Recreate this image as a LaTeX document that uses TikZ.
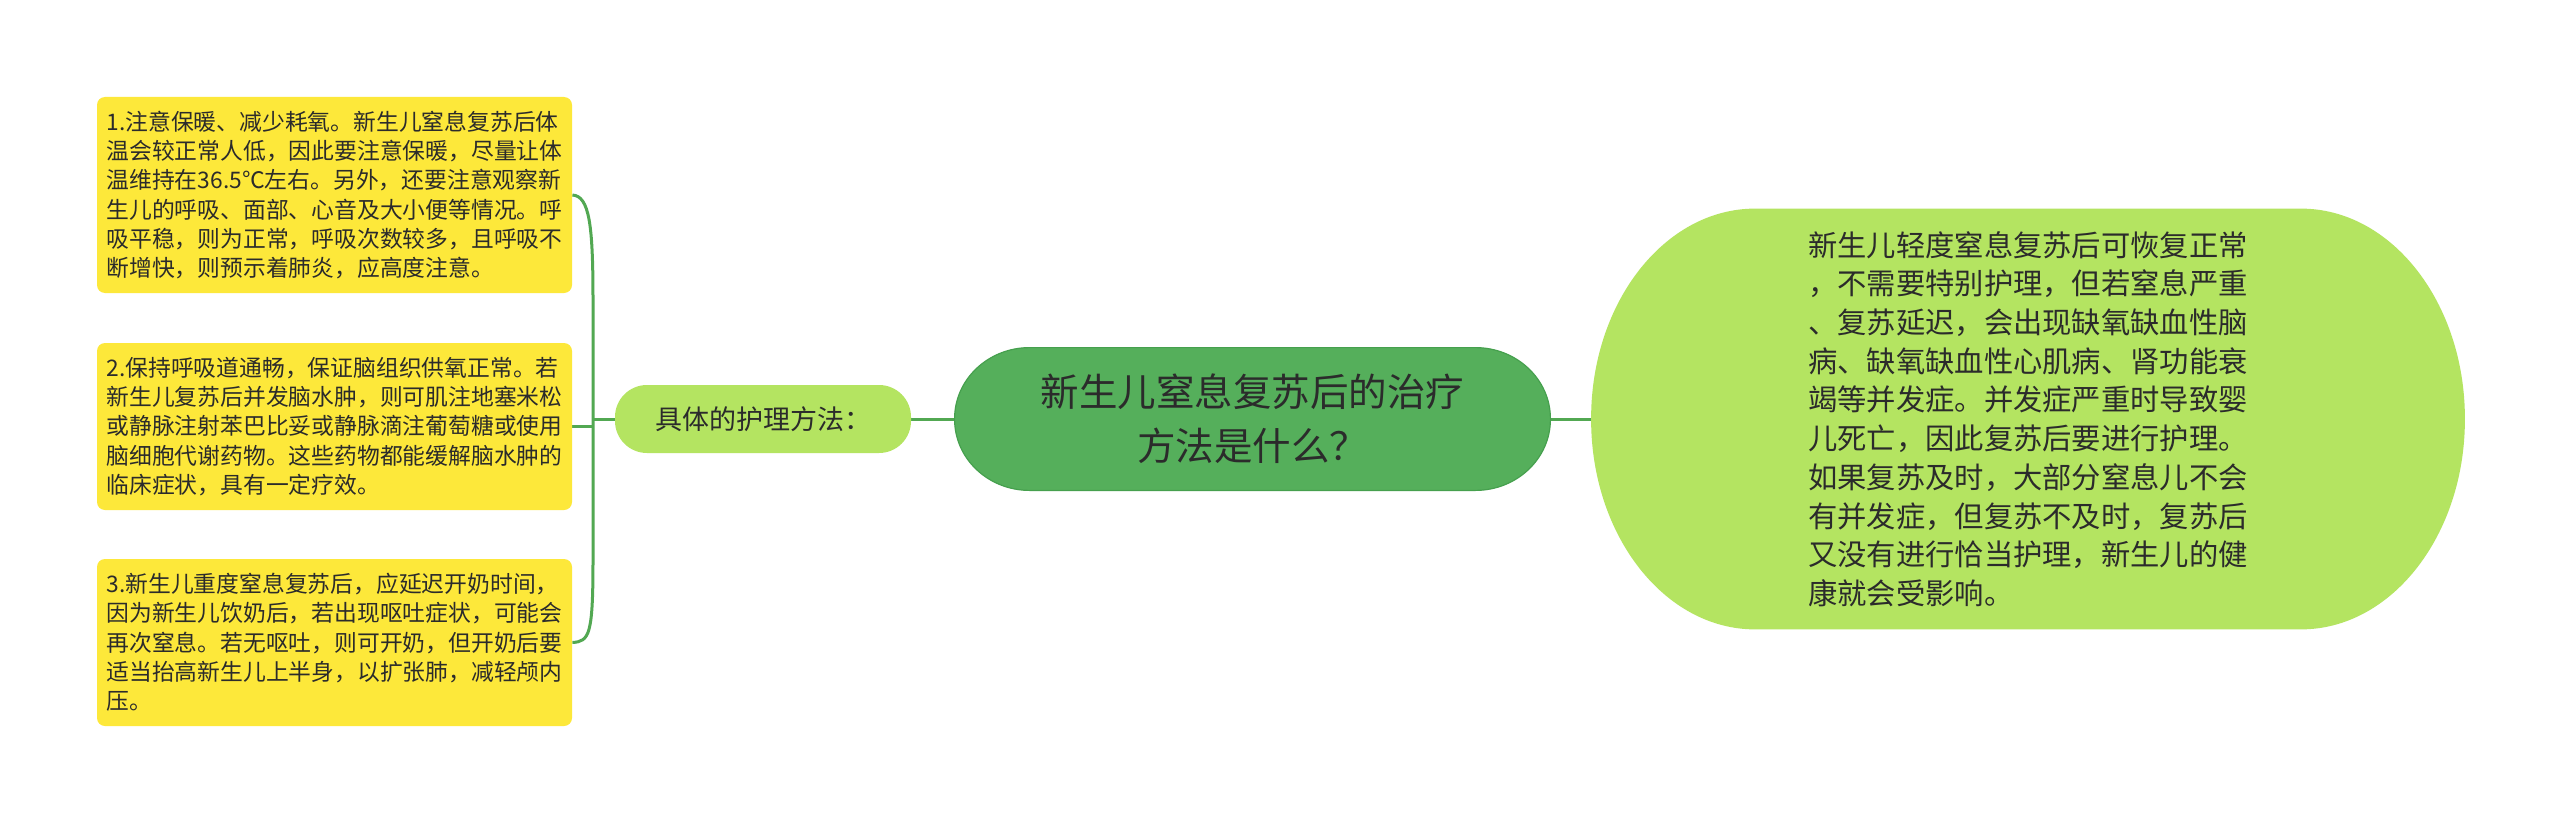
\documentclass[tikz,border=0pt]{standalone}
\usepackage{fontspec}
\setmainfont{Noto Sans CJK SC}
\usetikzlibrary{calc,backgrounds}
\definecolor{yellowc}{HTML}{FDE83A}
\definecolor{maingreen}{HTML}{55AF5B}
\definecolor{mainborder}{HTML}{46A04E}
\definecolor{lightgreen}{HTML}{B4E461}
\definecolor{linec}{HTML}{52A852}
\definecolor{textc}{HTML}{2B2B2B}
\newcommand\ellbox[4]{%
  \path[#4] let \p1=(#1.south west), \p2=(#1.north east) in
    (\x1+#2,\y1) -- (\x2-#2,\y1)
    arc[start angle=270,end angle=360,x radius=#2,y radius=#3]
    -- (\x2,\y2-#3)
    arc[start angle=0,end angle=90,x radius=#2,y radius=#3]
    -- (\x1+#2,\y2)
    arc[start angle=90,end angle=180,x radius=#2,y radius=#3]
    -- (\x1,\y1+#3)
    arc[start angle=180,end angle=270,x radius=#2,y radius=#3]
    -- cycle;}
\begin{document}
\begin{tikzpicture}[x=0.5pt,y=-0.5pt,
  ybox/.style={fill=yellowc, rounded corners=4pt, inner sep=0pt,
    minimum width=237.5pt, align=left, text=textc,
    font=\fontsize{11.4pt}{14.65pt}\selectfont},
  subnode/.style={fill=lightgreen, rounded corners=16pt, inner sep=0pt,
    minimum width=148pt, minimum height=34pt, text=textc,
    font=\fontsize{13.5pt}{16pt}\selectfont},
  mainnode/.style={inner sep=0pt, minimum width=297.5pt, minimum height=71pt,
    align=center, text=textc, font=\fontsize{19.25pt}{27pt}\selectfont},
  rightnode/.style={inner sep=0pt, minimum width=436.5pt, minimum height=210pt,
    align=left, text=textc, font=\fontsize{14.65pt}{19.35pt}\selectfont},
  conn/.style={draw=linec, line width=1.5pt}]
\useasboundingbox (0,0) rectangle (2560,824);

\node[mainnode] (main) at (1252.5,419) {新生儿窒息复苏后的治疗\\方法是什么？};
\node[subnode] (ju) at (763,419) {具体的护理方法：};
\node[rightnode] (right) at (2028,419) {新生儿轻度窒息复苏后可恢复正常\\
，不需要特别护理，但若窒息严重\\
、复苏延迟，会出现缺氧缺血性脑\\
病、缺氧缺血性心肌病、肾功能衰\\
竭等并发症。并发症严重时导致婴\\
儿死亡，因此复苏后要进行护理。\\
如果复苏及时，大部分窒息儿不会\\
有并发症，但复苏不及时，复苏后\\
又没有进行恰当护理，新生儿的健\\
康就会受影响。};

\node[ybox, minimum height=98pt] (b1) at (334.5,195) {1.注意保暖、减少耗氧。新生儿窒息复苏后体\\
温会较正常人低，因此要注意保暖，尽量让体\\
温维持在36.5℃左右。另外，还要注意观察新\\
生儿的呼吸、面部、心音及大小便等情况。呼\\
吸平稳，则为正常，呼吸次数较多，且呼吸不\\
断增快，则预示着肺炎，应高度注意。};
\node[ybox, minimum height=83.5pt] (b2) at (334.5,426.5) {2.保持呼吸道通畅，保证脑组织供氧正常。若\\
新生儿复苏后并发脑水肿，则可肌注地塞米松\\
或静脉注射苯巴比妥或静脉滴注葡萄糖或使用\\
脑细胞代谢药物。这些药物都能缓解脑水肿的\\
临床症状，具有一定疗效。};
\node[ybox, minimum height=83.5pt] (b3) at (334.5,642.5) {3.新生儿重度窒息复苏后，应延迟开奶时间，\\
因为新生儿饮奶后，若出现呕吐症状，可能会\\
再次窒息。若无呕吐，则可开奶，但开奶后要\\
适当抬高新生儿上半身，以扩张肺，减轻颅内\\
压。};

\coordinate (hub) at (593,419);
\coordinate (t1) at (593,300);
\coordinate (t3) at (593,560);
\begin{scope}[on background layer]
  \fill[white] (0,0) rectangle (2560,824);
  \draw[conn] (main.west) -- (ju.east);
  \draw[conn] (main.east) -- (right.west);
  \draw[conn] (ju.west) -- (hub);
  \draw[conn] (b1.east) .. controls +(17,1) and +(0,-75) .. (t1) -- (t3)
    .. controls +(0,75) and +(17,-1) .. (b3.east);
  \draw[conn] (b2.east) -- (b2.east -| hub);
  \ellbox{main}{37.5pt}{35.5pt}{fill=maingreen, draw=mainborder, line width=0.6pt}
  \ellbox{right}{82pt}{105pt}{fill=lightgreen}
\end{scope}
\end{tikzpicture}
\end{document}
